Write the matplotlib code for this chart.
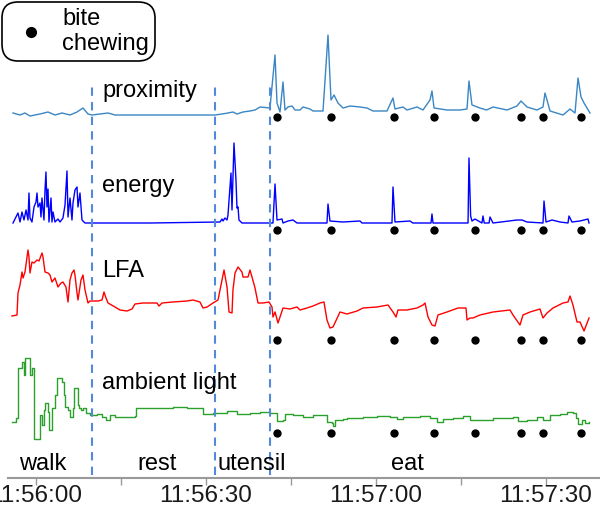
import datetime as dt
import matplotlib
matplotlib.use("Agg")
import matplotlib.pyplot as plt
from matplotlib.lines import Line2D
from matplotlib.ticker import FuncFormatter, MultipleLocator

plt.rcParams['font.family'] = ['Liberation Sans', 'DejaVu Sans']

start = dt.datetime(2000, 1, 1, 11, 56, 0)

# seconds after 11:56:00, signal heights in arbitrary units
prox_t = [-4.06, -2.82, -1.94, -1.06, 0.71, 2.12, 3.35, 4.59, 6.0, 7.24, 8.29, 9.18,
          9.88, 11.3, 12.71, 13.94, 20.12, 28.94, 31.6, 32.82, 33.88, 34.76, 35.47,
          36.53, 37.76, 38.65, 39.53, 41.29, 42.18, 42.53, 43.06, 43.59, 43.94, 44.47,
          45.18, 45.71, 46.59, 47.12, 48.35, 48.88, 50.65, 51.53, 52.06, 52.59, 53.29,
          54.18, 55.41, 57.18, 58.41, 59.47, 61.94, 63.0, 63.35, 64.76, 65.47, 67.24,
          68.29, 69.53, 69.88, 70.24, 72.53, 74.82, 76.06, 76.41, 76.94, 78.35, 79.5,
          80.65, 83.12, 84.88, 85.59, 86.65, 88.41, 89.47, 89.82, 90.18, 90.71, 93.0,
          94.24, 95.12, 95.65, 96.18, 96.71, 97.76]
prox_v = [2, 0, 2, -1, 1, 3, 0, 2, 0, 3, 7, 1,
          0, 1, 2, 0, 0, 0, 0, 1, 2, 3, 1,
          3, 4, 5, 8, 7, 60, 12, 3, 33, 5, 8,
          9, 5, 5, 8, 6, 4, 4, 80, 15, 20, 12,
          7, 9, 8, 7, 4, 4, 17, 6, 8, 5, 8,
          5, 15, 24, 7, 5, 5, 6, 34, 10, 7, 5,
          8, 5, 9, 14, 8, 5, 8, 22, 15, 4, 0,
          6, 2, 37, 18, 12, 2]

energy_t = [-4.06, -3.18, -2.82, -2.47, -2.12, -1.76, -1.41, -1.24, -1.06, -0.71,
            -0.35, 0.0, 0.18, 0.35, 0.71, 0.88, 1.06, 1.41, 1.59, 1.76, 1.94, 2.12,
            2.29, 2.65, 2.82, 3.0, 3.35, 3.88, 4.24, 4.76, 5.12, 5.47, 5.65, 6.0,
            6.35, 6.53, 6.88, 7.24, 7.41, 7.76, 8.12, 8.65, 9.88, 20.12, 32.47,
            32.82, 33.0, 33.35, 33.71, 33.88, 34.41, 34.59, 34.94, 35.12, 35.29,
            35.47, 35.65, 35.82, 36.35, 41.82, 42.18, 42.53, 43.41, 43.59, 44.47,
            45.35, 46.06, 51.35, 51.53, 51.88, 54.18, 57.18, 57.53, 62.82, 63.0,
            63.35, 66.0, 66.5, 69.71, 69.88, 70.06, 74.47, 76.24, 76.41, 76.7, 76.94,
            77.47, 78.7, 78.88, 79.1, 79.95, 80.12, 80.65, 84.88, 85.76, 86.65, 89.47,
            89.65, 90.0, 91.06, 92.47, 93.88, 94.06, 94.59, 96.0, 97.41, 97.59]
energy_v = [0, 10, 1, 11, 3, 13, 3, 30, 5, 1,
            16, 21, 30, 16, 20, 6, 25, 3, 33, 51, 16, 34,
            1, 25, 1, 11, 1, 4, 1, 5, 18, 52, 6, 25,
            3, 20, 33, 36, 16, 30, 3, 0, 0, 0, 1,
            4, 2, 5, 3, 8, 50, 13, 80, 61, 43,
            15, 16, 3, 0, 0, 39, 3, 4, 0, 2,
            3, 0, 0, 19, 2, 1, 2, 0, 0, 36,
            1, 2, 0, 0, 9, 0, 0, 0, 65, 7, 2,
            4, 0, 7, 0, 0, 6, 0, 3, 3, 1, 0,
            22, 1, 3, 1, 0, 7, 1, 2, 4, 0]

lfa_t = [-4.24, -3.35, -3.18, -2.82, -2.47, -2.29, -1.94, -1.41, -1.24, -1.06, -0.71,
         -0.35, 0.18, 0.53, 1.06, 1.24, 1.59, 2.12, 2.47, 2.82, 3.35, 3.88, 4.41, 4.76,
         5.29, 5.65, 6.0, 6.35, 6.71, 6.88, 7.24, 7.41, 7.94, 8.29, 8.65, 9.18, 9.53,
         10.06, 10.94, 11.65, 12.0, 12.35, 12.71, 13.94, 14.82, 16.06, 16.94, 17.47,
         18.88, 21.35, 21.71, 22.24, 24.18, 26.65, 27.71, 28.94, 29.47, 30.18, 31.24,
         32.12, 32.82, 33.18, 33.71, 34.06, 34.59, 34.76, 35.12, 35.65, 36.35, 36.53,
         37.41, 37.76, 38.12, 38.65, 39.18, 40.06, 41.12, 41.65, 41.82, 42.18, 42.71,
         43.59, 44.82, 46.06, 46.59, 47.82, 48.88, 50.12, 50.82, 51.35, 51.88, 52.41,
         53.65, 54.88, 56.65, 57.71, 60.18, 62.12, 63.0, 63.53, 63.88, 65.47, 67.24,
         68.29, 68.65, 69.18, 69.88, 70.41, 70.94, 72.53, 74.47, 75.88, 76.06, 76.59,
         77.12, 78.35, 80.65, 83.65, 84.18, 85.41, 85.94, 87.18, 88.94, 89.47, 90.18,
         91.24, 93.0, 93.88, 94.24, 94.76, 95.47, 96.0, 96.71, 97.59]
lfa_v = [24, 25, 47, 55, 68, 62, 68, 90, 83, 67, 78,
         77, 80, 79, 87, 83, 68, 67, 65, 58, 62, 53, 57, 58,
         53, 38, 60, 67, 70, 65, 47, 40, 60, 65, 50, 37, 39,
         39, 39, 40, 48, 42, 37, 33, 30, 29, 31, 36,
         37, 37, 34, 37, 38, 39, 40, 38, 32, 33, 37,
         40, 60, 70, 53, 28, 27, 50, 67, 73, 68, 63,
         63, 70, 63, 52, 37, 37, 38, 33, 23, 28, 17,
         32, 31, 33, 30, 32, 34, 37, 38, 20, 12, 13,
         28, 26, 29, 32, 33, 35, 28, 23, 30, 30, 32,
         35, 37, 23, 15, 14, 25, 28, 32, 32, 20, 22,
         22, 25, 28, 30, 25, 15, 25, 28, 31, 22, 27,
         32, 37, 38, 44, 35, 18, 18, 9, 22]

light_t = [-4.24, -3.53, -3.18, -2.47, -2.12, -1.94, -1.06, -0.71, -0.35, 0.71, 1.06,
           1.41, 1.59, 2.12, 2.29, 2.82, 3.35, 3.71, 4.59, 4.94, 5.12, 5.65, 6.0,
           6.53, 6.71, 7.41, 7.59, 7.94, 8.29, 8.82, 9.53, 10.76, 11.65, 12.35, 13.06,
           13.94, 17.47, 17.65, 24.18, 26.65, 29.47, 31.24, 33.71, 35.47, 37.76, 39.53,
           41.29, 42.53, 43.59, 43.94, 45.35, 47.12, 48.88, 51.35, 52.24, 52.41, 52.76,
           54.18, 54.88, 57.71, 60.18, 62.47, 63.71, 64.76, 67.76, 69.53, 70.76, 71.82,
           73.59, 75.35, 76.59, 80.65, 84.18, 85.06, 86.65, 88.41, 89.47, 90.71, 92.47,
           93.71, 94.76, 95.29, 95.65, 96.35, 96.88, 97.59]
light_v = [18, 22, 72, 78, 65, 82, 65, 72, 1, 25, 15,
           30, 37, 28, 10, 32, 45, 62, 58, 45, 33, 30, 23,
           32, 52, 35, 32, 30, 32, 27, 25, 26, 23, 20, 25,
           23, 24, 32, 33, 32, 26, 27, 29, 26, 27, 28,
           27, 19, 20, 26, 25, 23, 25, 18, 17, 14, 20,
           21, 22, 23, 24, 23, 21, 23, 24, 22, 18, 21,
           22, 24, 20, 22, 23, 19, 20, 23, 20, 25, 26,
           28, 27, 22, 16, 20, 17, 18]

bite_t = [42.6, 52.1, 63.2, 70.2, 77.4, 85.6, 89.4, 96.2]
phase_bounds = [9.88, 31.6, 41.29]
phase_names = ['walk', 'rest', 'utensil', 'eat']
phase_mid = [1.24, 21.35, 38.1, 65.6]

# (label, times, values, colour, baseline, dot level, step drawing)
rows = [
    ('proximity', prox_t, prox_v, '#3a86c4', 363, 361, False),
    ('energy', energy_t, energy_v, '#0000ff', 255, 248, False),
    ('LFA', lfa_t, lfa_v, '#ff0000', 138, 138, False),
    ('ambient light', light_t, light_v, '#2ca02c', 38, 45, True),
]
label_y = [387, 292, 207, 95]

fig = plt.figure(figsize=(6.0, 5.07), dpi=100)
ax = fig.add_axes([8 / 600, 29 / 507, 592 / 600, 478 / 507])

for (name, t, v, col, base, dot_y, steps), ly in zip(rows, label_y):
    ax.plot(t, [base + val for val in v], color=col, lw=1.0,
            drawstyle='steps-post' if steps else 'default')
    ax.plot(bite_t, [dot_y] * len(bite_t), 'o', color='black', ms=6, mec='none')
    ax.text(11.65, ly, name, fontsize=17, va='center', ha='left')

ax.vlines(phase_bounds, 3, 391, colors='#5289db', lw=1.5, linestyles=(0, (4, 3)))
for name, m in zip(phase_names, phase_mid):
    ax.text(m, 14, name, fontsize=17, ha='center', va='center')

ax.set_xlim(-4.94, 99.53)
ax.set_ylim(0, 478)
for s in ('left', 'top', 'right'):
    ax.spines[s].set_visible(False)
ax.spines['bottom'].set_color('#999999')
ax.spines['bottom'].set_linewidth(1.5)
ax.set_yticks([])
ax.xaxis.set_major_locator(MultipleLocator(30))
ax.xaxis.set_minor_locator(MultipleLocator(15))
ax.xaxis.set_major_formatter(FuncFormatter(
    lambda s, _: (start + dt.timedelta(seconds=s)).strftime('%H:%M:%S')))
ax.tick_params(axis='x', which='both', length=5, width=1, color='#999999',
               labelsize=17.5, labelcolor='#1a1a1a', pad=0)

handle = Line2D([], [], marker='o', ls='none', color='black', ms=7)
leg = ax.legend([handle], ['bite\nchewing'], loc='upper left',
                bbox_to_anchor=(3 / 600, 1 - 3 / 507), bbox_transform=fig.transFigure,
                borderaxespad=0, fontsize=17, handletextpad=0.3, handlelength=2.0,
                borderpad=0.2, labelspacing=0.2)
frame = leg.get_frame()
frame.set_edgecolor('black')
frame.set_linewidth(1.2)
frame.set_alpha(1)
frame.set_boxstyle('round,pad=0.05,rounding_size=0.7')

fig.savefig('out.png', dpi=100)
